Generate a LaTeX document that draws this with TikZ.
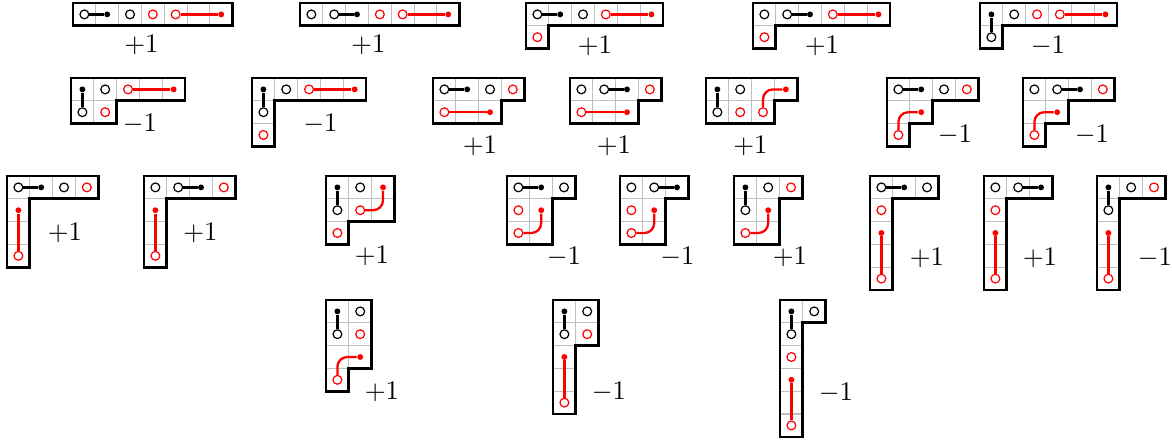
\documentclass[tikz,border=0pt]{standalone}
\begin{document}
\def\pxu{0.013158cm}
\tikzset{
  gridline/.style={draw=black!25, line width=0.4pt},
  outline/.style={draw=black, line width=1pt, line join=miter},
  ocirc/.style={circle, draw=#1, fill=white, line width=0.45pt, minimum size=3.3pt, inner sep=0pt},
  fdot/.style={circle, fill=#1, draw=none, minimum size=2.2pt, inner sep=0pt},
  conn/.style={draw=#1, line width=0.85pt, rounded corners=0.13cm},
  lbl/.style={inner sep=0pt}
}
\newcommand\diag[4]{%
  \begin{scope}[shift={(#1*\pxu,-#2*\pxu)},x=0.3cm,y=-0.3cm]
    \begin{scope}
      \clip #3;
      \foreach \k in {1,...,7}{\draw[gridline] (\k,0) -- (\k,7); \draw[gridline] (0,\k) -- (7,\k);}
    \end{scope}
    \draw[outline] #3;
    #4
  \end{scope}}
\newcommand\hc[3]{\node[ocirc=#1] (#2) at (#3) {};}
\newcommand\pr[5]{\node[ocirc=#1] (#2c) at (#3) {}; \node[fdot=#1] (#2d) at (#4) {}; \draw[conn=#1] (#2c) #5 (#2d);}
\begin{tikzpicture}
\useasboundingbox (0,0) rectangle (1172*\pxu,-442*\pxu);
% Row 1
\diag{73}{3}{(0,0)--(7,0)--(7,1)--(0,1)--cycle}{
  \pr{black}{1a}{0.5,0.5}{1.5,0.5}{--}
  \hc{black}{1b}{2.5,0.5}
  \hc{red}{1c}{3.5,0.5}
  \pr{red}{1d}{4.5,0.5}{6.5,0.5}{--}}
\diag{300}{3}{(0,0)--(7,0)--(7,1)--(0,1)--cycle}{
  \hc{black}{2a}{0.5,0.5}
  \pr{black}{2b}{1.5,0.5}{2.5,0.5}{--}
  \hc{red}{2c}{3.5,0.5}
  \pr{red}{2d}{4.5,0.5}{6.5,0.5}{--}}
\diag{526}{3}{(0,0)--(6,0)--(6,1)--(1,1)--(1,2)--(0,2)--cycle}{
  \pr{black}{3a}{0.5,0.5}{1.5,0.5}{--}
  \hc{black}{3b}{2.5,0.5}
  \pr{red}{3c}{3.5,0.5}{5.5,0.5}{--}
  \hc{red}{3d}{0.5,1.5}}
\diag{753}{3}{(0,0)--(6,0)--(6,1)--(1,1)--(1,2)--(0,2)--cycle}{
  \hc{black}{4a}{0.5,0.5}
  \pr{black}{4b}{1.5,0.5}{2.5,0.5}{--}
  \pr{red}{4c}{3.5,0.5}{5.5,0.5}{--}
  \hc{red}{4d}{0.5,1.5}}
\diag{980}{3}{(0,0)--(6,0)--(6,1)--(1,1)--(1,2)--(0,2)--cycle}{
  \pr{black}{5a}{0.5,1.5}{0.5,0.5}{--}
  \hc{black}{5b}{1.5,0.5}
  \hc{red}{5c}{2.5,0.5}
  \pr{red}{5d}{3.5,0.5}{5.5,0.5}{--}}
% Row 2
\diag{71}{78}{(0,0)--(5,0)--(5,1)--(2,1)--(2,2)--(0,2)--cycle}{
  \pr{black}{6a}{0.5,1.5}{0.5,0.5}{--}
  \hc{black}{6b}{1.5,0.5}
  \pr{red}{6c}{2.5,0.5}{4.5,0.5}{--}
  \hc{red}{6d}{1.5,1.5}}
\diag{252}{78}{(0,0)--(5,0)--(5,1)--(1,1)--(1,3)--(0,3)--cycle}{
  \pr{black}{7a}{0.5,1.5}{0.5,0.5}{--}
  \hc{black}{7b}{1.5,0.5}
  \pr{red}{7c}{2.5,0.5}{4.5,0.5}{--}
  \hc{red}{7d}{0.5,2.5}}
\diag{433}{78}{(0,0)--(4,0)--(4,1)--(3,1)--(3,2)--(0,2)--cycle}{
  \pr{black}{8a}{0.5,0.5}{1.5,0.5}{--}
  \hc{black}{8b}{2.5,0.5}
  \hc{red}{8c}{3.5,0.5}
  \pr{red}{8d}{0.5,1.5}{2.5,1.5}{--}}
\diag{570}{78}{(0,0)--(4,0)--(4,1)--(3,1)--(3,2)--(0,2)--cycle}{
  \hc{black}{9a}{0.5,0.5}
  \pr{black}{9b}{1.5,0.5}{2.5,0.5}{--}
  \hc{red}{9c}{3.5,0.5}
  \pr{red}{9d}{0.5,1.5}{2.5,1.5}{--}}
\diag{706}{78}{(0,0)--(4,0)--(4,1)--(3,1)--(3,2)--(0,2)--cycle}{
  \pr{black}{10a}{0.5,1.5}{0.5,0.5}{--}
  \hc{black}{10b}{1.5,0.5}
  \hc{red}{10c}{1.5,1.5}
  \pr{red}{10d}{2.5,1.5}{3.5,0.5}{|-}}
\diag{887}{78}{(0,0)--(4,0)--(4,1)--(2,1)--(2,2)--(1,2)--(1,3)--(0,3)--cycle}{
  \pr{black}{11a}{0.5,0.5}{1.5,0.5}{--}
  \hc{black}{11b}{2.5,0.5}
  \hc{red}{11c}{3.5,0.5}
  \pr{red}{11d}{0.5,2.5}{1.5,1.5}{|-}}
\diag{1023}{78}{(0,0)--(4,0)--(4,1)--(2,1)--(2,2)--(1,2)--(1,3)--(0,3)--cycle}{
  \hc{black}{12a}{0.5,0.5}
  \pr{black}{12b}{1.5,0.5}{2.5,0.5}{--}
  \hc{red}{12c}{3.5,0.5}
  \pr{red}{12d}{0.5,2.5}{1.5,1.5}{|-}}
% Row 3
\diag{7}{176}{(0,0)--(4,0)--(4,1)--(1,1)--(1,4)--(0,4)--cycle}{
  \pr{black}{13a}{0.5,0.5}{1.5,0.5}{--}
  \hc{black}{13b}{2.5,0.5}
  \hc{red}{13c}{3.5,0.5}
  \pr{red}{13d}{0.5,3.5}{0.5,1.5}{--}}
\diag{144}{176}{(0,0)--(4,0)--(4,1)--(1,1)--(1,4)--(0,4)--cycle}{
  \hc{black}{14a}{0.5,0.5}
  \pr{black}{14b}{1.5,0.5}{2.5,0.5}{--}
  \hc{red}{14c}{3.5,0.5}
  \pr{red}{14d}{0.5,3.5}{0.5,1.5}{--}}
\diag{326}{176}{(0,0)--(3,0)--(3,2)--(1,2)--(1,3)--(0,3)--cycle}{
  \pr{black}{15a}{0.5,1.5}{0.5,0.5}{--}
  \hc{black}{15b}{1.5,0.5}
  \pr{red}{15c}{1.5,1.5}{2.5,0.5}{-|}
  \hc{red}{15d}{0.5,2.5}}
\diag{507}{176}{(0,0)--(3,0)--(3,1)--(2,1)--(2,3)--(0,3)--cycle}{
  \pr{black}{16a}{0.5,0.5}{1.5,0.5}{--}
  \hc{black}{16b}{2.5,0.5}
  \hc{red}{16c}{0.5,1.5}
  \pr{red}{16d}{0.5,2.5}{1.5,1.5}{-|}}
\diag{620}{176}{(0,0)--(3,0)--(3,1)--(2,1)--(2,3)--(0,3)--cycle}{
  \hc{black}{17a}{0.5,0.5}
  \pr{black}{17b}{1.5,0.5}{2.5,0.5}{--}
  \hc{red}{17c}{0.5,1.5}
  \pr{red}{17d}{0.5,2.5}{1.5,1.5}{-|}}
\diag{734}{176}{(0,0)--(3,0)--(3,1)--(2,1)--(2,3)--(0,3)--cycle}{
  \pr{black}{18a}{0.5,1.5}{0.5,0.5}{--}
  \hc{black}{18b}{1.5,0.5}
  \hc{red}{18c}{2.5,0.5}
  \pr{red}{18d}{0.5,2.5}{1.5,1.5}{-|}}
\diag{870}{176}{(0,0)--(3,0)--(3,1)--(1,1)--(1,5)--(0,5)--cycle}{
  \pr{black}{19a}{0.5,0.5}{1.5,0.5}{--}
  \hc{black}{19b}{2.5,0.5}
  \hc{red}{19c}{0.5,1.5}
  \pr{red}{19d}{0.5,4.5}{0.5,2.5}{--}}
\diag{984}{176}{(0,0)--(3,0)--(3,1)--(1,1)--(1,5)--(0,5)--cycle}{
  \hc{black}{20a}{0.5,0.5}
  \pr{black}{20b}{1.5,0.5}{2.5,0.5}{--}
  \hc{red}{20c}{0.5,1.5}
  \pr{red}{20d}{0.5,4.5}{0.5,2.5}{--}}
\diag{1097}{176}{(0,0)--(3,0)--(3,1)--(1,1)--(1,5)--(0,5)--cycle}{
  \pr{black}{21a}{0.5,1.5}{0.5,0.5}{--}
  \hc{black}{21b}{1.5,0.5}
  \hc{red}{21c}{2.5,0.5}
  \pr{red}{21d}{0.5,4.5}{0.5,2.5}{--}}
% Row 4
\diag{326}{300}{(0,0)--(2,0)--(2,3)--(1,3)--(1,4)--(0,4)--cycle}{
  \pr{black}{22a}{0.5,1.5}{0.5,0.5}{--}
  \hc{black}{22b}{1.5,0.5}
  \hc{red}{22c}{1.5,1.5}
  \pr{red}{22d}{0.5,3.5}{1.5,2.5}{|-}}
\diag{553}{300}{(0,0)--(2,0)--(2,2)--(1,2)--(1,5)--(0,5)--cycle}{
  \pr{black}{23a}{0.5,1.5}{0.5,0.5}{--}
  \hc{black}{23b}{1.5,0.5}
  \hc{red}{23c}{1.5,1.5}
  \pr{red}{23d}{0.5,4.5}{0.5,2.5}{--}}
\diag{780}{300}{(0,0)--(2,0)--(2,1)--(1,1)--(1,6)--(0,6)--cycle}{
  \pr{black}{24a}{0.5,1.5}{0.5,0.5}{--}
  \hc{black}{24b}{1.5,0.5}
  \hc{red}{24c}{0.5,2.5}
  \pr{red}{24d}{0.5,5.5}{0.5,3.5}{--}}
% Labels
\node[lbl] (L1) at (141.5*\pxu,-45*\pxu) {$+1$};
\node[lbl] (L2) at (368.5*\pxu,-45*\pxu) {$+1$};
\node[lbl] (L3) at (595*\pxu,-46*\pxu) {$+1$};
\node[lbl] (L4) at (822*\pxu,-46*\pxu) {$+1$};
\node[lbl] (L5) at (1048*\pxu,-46*\pxu) {$-1$};
\node[lbl] (L6) at (140*\pxu,-124*\pxu) {$-1$};
\node[lbl] (L7) at (320.5*\pxu,-124*\pxu) {$-1$};
\node[lbl] (L8) at (480*\pxu,-146*\pxu) {$+1$};
\node[lbl] (L9) at (614*\pxu,-146*\pxu) {$+1$};
\node[lbl] (L10) at (750.5*\pxu,-146*\pxu) {$+1$};
\node[lbl] (L11) at (955*\pxu,-135*\pxu) {$-1$};
\node[lbl] (L12) at (1092*\pxu,-135*\pxu) {$-1$};
\node[lbl] (L13) at (65*\pxu,-233*\pxu) {$+1$};
\node[lbl] (L14) at (200.5*\pxu,-233*\pxu) {$+1$};
\node[lbl] (L15) at (372*\pxu,-256*\pxu) {$+1$};
\node[lbl] (L16) at (564*\pxu,-257*\pxu) {$-1$};
\node[lbl] (L17) at (677.5*\pxu,-257*\pxu) {$-1$};
\node[lbl] (L18) at (790*\pxu,-257*\pxu) {$+1$};
\node[lbl] (L19) at (927*\pxu,-258*\pxu) {$+1$};
\node[lbl] (L20) at (1040*\pxu,-258*\pxu) {$+1$};
\node[lbl] (L21) at (1155*\pxu,-258*\pxu) {$-1$};
\node[lbl] (L22) at (382*\pxu,-392*\pxu) {$+1$};
\node[lbl] (L23) at (609*\pxu,-392*\pxu) {$-1$};
\node[lbl] (L24) at (836*\pxu,-393*\pxu) {$-1$};
\end{tikzpicture}
\end{document}
